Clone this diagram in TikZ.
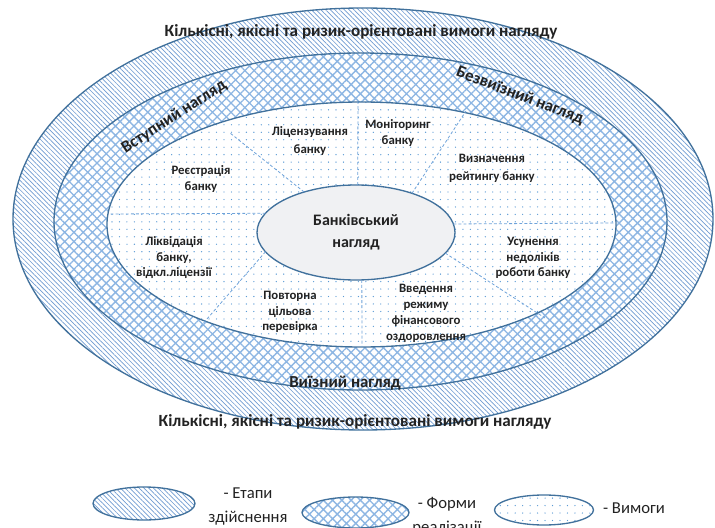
\documentclass[tikz,border=0pt]{standalone}
\usepackage{fontspec}
\setmainfont{Carlito}
\usetikzlibrary{shapes.geometric,patterns.meta}
\definecolor{edge}{HTML}{41719C}
\definecolor{hatchc}{HTML}{6F9BD1}
\definecolor{crossc}{HTML}{8DB6E3}
\definecolor{dotc}{HTML}{5B9BD5}
\definecolor{divc}{HTML}{6FA3DA}
\definecolor{txt}{HTML}{222222}
\definecolor{core}{HTML}{F0F1F3}
\tikzset{
  ring/.style={ellipse, draw=edge, line width=1pt, inner sep=0pt, outer sep=0pt},
  hatchfill/.style={preaction={fill=white}, pattern={Lines[angle=-45,distance=2.5pt,line width=0.5pt]}, pattern color=hatchc},
  crossfill/.style={preaction={fill=white}, pattern={Hatch[angle=45,distance=4.9pt,line width=1pt]}, pattern color=crossc},
  dotfill/.style={preaction={fill=white}, pattern={Dots[distance=5.6pt,radius=0.5pt]}, pattern color=dotc},
  divider/.style={draw=divc, line width=0.6pt, dash pattern=on 2.2pt off 1.6pt},
  lbl/.style={text=txt, align=center, inner sep=0pt, font=\fontsize{9.6}{11.6}\selectfont\bfseries},
  lblw/.style={text=txt, align=center, inner sep=0pt, font=\fontsize{9.6}{13.5}\selectfont\bfseries},
  ringlbl/.style={text=txt, inner sep=0pt, font=\fontsize{12.6}{14}\selectfont\bfseries},
  titlelbl/.style={text=txt, inner sep=0pt, font=\fontsize{12.8}{14}\selectfont\bfseries},
  legtxt/.style={text=txt, align=center, inner sep=0pt, font=\fontsize{12.5}{18}\selectfont}
}
\begin{document}
\begin{tikzpicture}[x=0.75pt, y=-0.75pt]
\useasboundingbox (0,0) rectangle (715,528);
% rings
\node[ring, hatchfill, minimum width=525pt, minimum height=316.5pt] (outer) at (363,219) {};
\node[ring, crossfill, minimum width=459.75pt, minimum height=252.75pt] (middle) at (360.5,221.5) {};
\node[ring, dotfill, minimum width=381.75pt, minimum height=183.75pt] (inner) at (361.5,224.5) {};
% divider end points
\coordinate (d1) at (230,133);
\coordinate (d2) at (358,102);
\coordinate (d3) at (466,111);
\coordinate (d4) at (110,214);
\coordinate (d5) at (615,223);
\coordinate (d6) at (200,327);
\coordinate (d7) at (545,318);
\coordinate (d8) at (362,347);
% centre
\node[ring, fill=core, minimum width=148.5pt, minimum height=71.25pt,
      text=txt, align=center, font=\fontsize{12}{16.5}\selectfont\bfseries] (bank) at (356,232.5) {Банківський\\нагляд};
\draw[divider] (bank.142) -- (d1);
\draw[divider] (bank.88) -- (d2);
\draw[divider] (bank.35) -- (d3);
\draw[divider] (bank.168.5) -- (d4);
\draw[divider] (bank.5.6) -- (d5);
\draw[divider] (bank.192.5) -- (d6);
\draw[divider] (bank.347.2) -- (d7);
\draw[divider] (bank.277.2) -- (d8);
% labels in the inner ring
\node[lblw] (lic) at (310,141) {Ліцензування\\банку};
\node[lbl] (mon) at (398,133) {Моніторинг\\банку};
\node[lblw] (rat) at (492,168) {Визначення\\рейтингу банку};
\node[lbl] (reg) at (201,179) {Реєстрація\\банку};
\node[lbl] (liq) at (174,258) {Ліквідація\\банку,\\відкл.ліцензії};
\node[lbl] (rep) at (290,312) {Повторна\\цільова\\перевірка};
\node[lbl] (fix) at (533,258) {Усунення\\недоліків\\роботи банку};
\node[lbl, font=\fontsize{9.6}{12}\selectfont\bfseries] (fin) at (426,313) {Введення\\режиму\\фінансового\\оздоровлення};
% ring labels
\node[ringlbl, rotate=33] (vst) at (174,117) {Вступний нагляд};
\node[ringlbl, rotate=-21] (bez) at (520,96) {Безвиїзний нагляд};
\node[ringlbl] (viz) at (345,383) {Виїзний нагляд};
% titles
\node[titlelbl] (ttop) at (361,32) {Кількісні, якісні та ризик-орієнтовані вимоги нагляду};
\node[titlelbl] (tbot) at (355,422) {Кількісні, якісні та ризик-орієнтовані вимоги нагляду};
% legend
\node[ring, hatchfill, minimum width=76.5pt, minimum height=24.75pt] (lg1) at (144,503.5) {};
\node[ring, crossfill, minimum width=80.25pt, minimum height=23.25pt] (lg2) at (355.5,512.5) {};
\node[ring, dotfill, minimum width=74.25pt, minimum height=22.5pt] (lg3) at (544,510) {};
\node[legtxt] (lt1) at (248,507) {- Етапи\\здійснення};
\node[legtxt] (lt2) at (447,516) {- Форми\\реалізації};
\node[legtxt] (lt3) at (634,508) {- Вимоги};
\end{tikzpicture}
\end{document}
